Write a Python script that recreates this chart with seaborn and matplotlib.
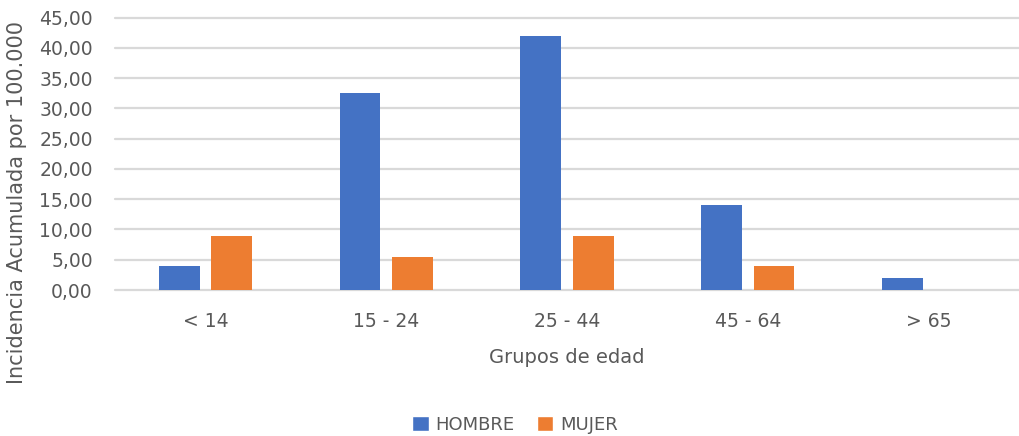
import pandas as pd
import matplotlib
matplotlib.use("Agg")
import matplotlib.pyplot as plt
import seaborn as sns
from matplotlib.ticker import FuncFormatter
from matplotlib.patches import Patch

# datos
grupos = ['< 14', '15 - 24', '25 - 44', '45 - 64', '> 65']
hombre = [4.0, 32.5, 41.9, 14.1, 1.9]
mujer = [8.9, 5.4, 9.0, 4.0, 0.0]
sexos = ['HOMBRE', 'MUJER']
colores = ['#4472C4', '#ED7D31']

GRIS = '#595959'

def construir_df():
    df = pd.DataFrame({
        'grupo': grupos * 2,
        'sexo': [sexos[0]] * len(grupos) + [sexos[1]] * len(grupos),
        'valor': hombre + mujer,
    })
    return df

def grafico(df):
    sns.set_style('white')
    plt.rcParams['font.family'] = ['DejaVu Sans']
    fig = plt.figure(figsize=(10.19, 4.36), dpi=100)
    ax = fig.add_axes([115 / 1019, 1 - 290 / 436, 1 - 115 / 1019, (290 - 17.5) / 436])

    sns.barplot(data=df, x='grupo', y='valor', hue='sexo', order=grupos,
                hue_order=sexos, palette=colores, width=0.58, gap=0.22,
                saturation=1, errorbar=None, legend=False, ax=ax, zorder=3,
                linewidth=0)

    ax.set_ylim(0, 45)
    ax.set_yticks(range(0, 46, 5))
    ax.yaxis.set_major_formatter(FuncFormatter(lambda v, p: f'{v:.2f}'.replace('.', ',')))
    ax.grid(axis='y', color='#D9D9D9', linewidth=1.6, zorder=0)
    ax.set_axisbelow(True)
    for l in ax.get_ygridlines():
        l.set_clip_on(False)
    for s in ax.spines.values():
        s.set_visible(False)
    ax.tick_params(axis='both', length=0, labelsize=13.5, labelcolor=GRIS)
    ax.tick_params(axis='x', pad=16)
    ax.tick_params(axis='y', pad=16)
    ax.set_xlabel('Grupos de edad', fontsize=14, color=GRIS, labelpad=12)
    ax.set_ylabel('')
    ax.set_xlim(-0.5, 4.5)

    fig.text(17 / 1019, 1 - 202 / 436, 'Incidencia Acumulada por 100.000',
             rotation=90, ha='center', va='center', fontsize=15, color=GRIS)

    handles = [Patch(facecolor=c, label=s) for c, s in zip(colores, sexos)]
    fig.legend(handles=handles, loc='center', bbox_to_anchor=(515 / 1019, 1 - 425 / 436),
               ncol=2, frameon=False, fontsize=13, labelcolor=GRIS,
               handlelength=0.9, handleheight=0.9, handletextpad=0.4, columnspacing=1.2)

    fig.savefig('out.png', dpi=100)

grafico(construir_df())
